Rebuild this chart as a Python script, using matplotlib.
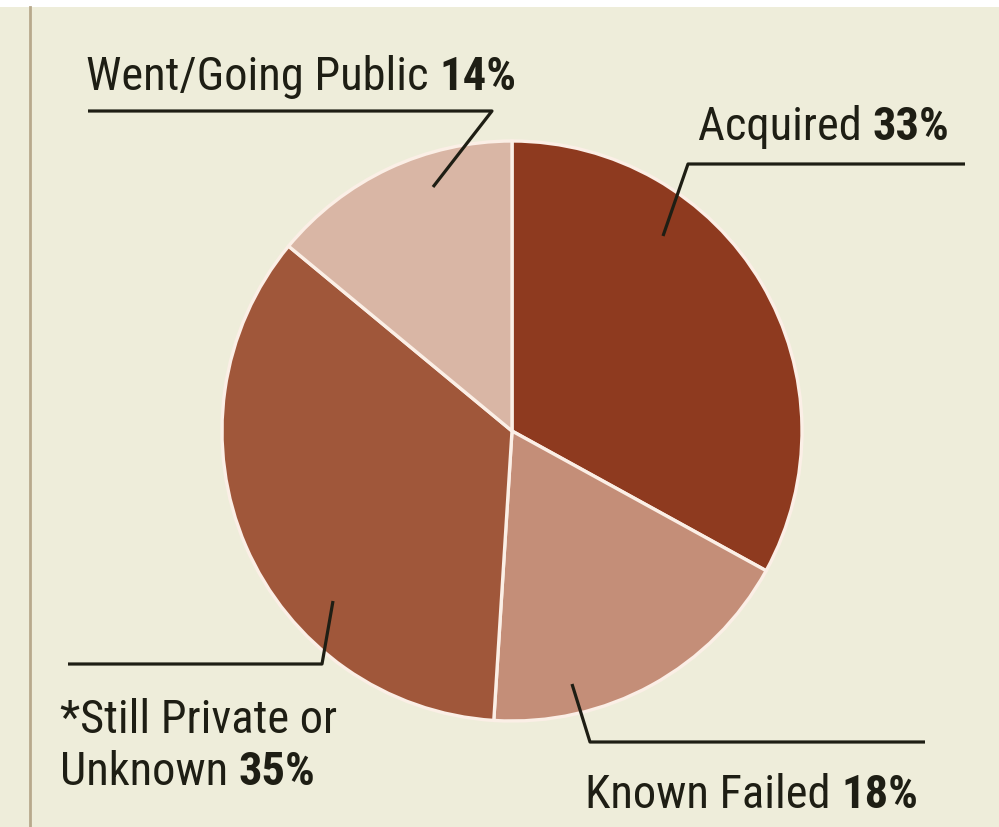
import matplotlib.pyplot as plt

# exit outcomes, clockwise from 12 o'clock
labels = ['Acquired', 'Known Failed', '*Still Private or\nUnknown', 'Went/Going Public']
shares = [33, 18, 35, 14]
colors = ['#8e3a1f', '#c48e78', '#a0573a', '#d9b6a5']

BG = '#eeedda'
W, H = 999, 828

fig = plt.figure(figsize=(W / 100, H / 100), dpi=100, facecolor=BG)
ax = fig.add_axes([0, 0, 1, 1])
ax.set_facecolor(BG)

cx, cy, r = 512, H - 432, 290
ax.pie(shares, colors=colors, startangle=90, counterclock=False,
       center=(cx, cy), radius=r, frame=True,
       wedgeprops=dict(edgecolor='#fbefe6', linewidth=2.4))
ax.set_xlim(0, W)
ax.set_ylim(0, H)
ax.axis('off')

# page rule on the left and light strip on top
ax.plot([30, 30], [0, H - 8], color='#b8a98c', lw=2)
ax.axhspan(H - 8, H, color='white', lw=0)


def pline(pts):
    xs = [p[0] for p in pts]
    ys = [H - p[1] for p in pts]
    ax.plot(xs, ys, color='#1e1e14', lw=2.3, solid_capstyle='butt')


pline([(88, 112), (492, 112), (433, 188)])
pline([(965, 165), (688, 165), (663, 237)])
pline([(68, 665), (322, 665), (333, 602)])
pline([(572, 685), (590, 743), (925, 743)])

FONT = ['Roboto Condensed', 'DejaVu Sans']
FS = 33.5
INK = '#1e1e14'


def label(x, y, name, pct):
    t = ax.text(x, H - y, name + ' ', fontsize=FS, family=FONT,
                color=INK, va='baseline', ha='left')
    ax.annotate(f'{pct}%', xy=(1, 0), xycoords=t, fontsize=FS,
                family=FONT, fontweight='bold', color=INK,
                va='bottom', ha='left')


label(86, 90, 'Went/Going Public', shares[3])
label(698, 140, 'Acquired', shares[0])
ax.text(60, H - 733, '*Still Private or', fontsize=FS, family=FONT,
        color=INK, va='baseline', ha='left')
label(60, 785, 'Unknown', shares[2])
label(585, 808, 'Known Failed', shares[1])

fig.savefig('out.png', dpi=100, facecolor=BG)
